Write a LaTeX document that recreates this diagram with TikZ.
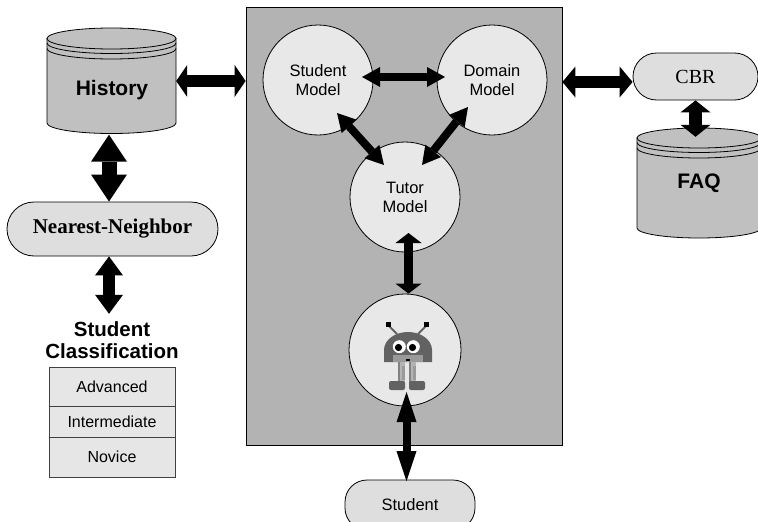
\documentclass[tikz,border=0pt]{standalone}
\usepackage{fontspec}
\setmainfont{Liberation Serif}
\setsansfont{Liberation Sans}
\usetikzlibrary{arrows.meta,calc}

\definecolor{panelgray}{HTML}{B3B3B3}
\definecolor{bubble}{HTML}{E8E8E8}
\definecolor{drumgray}{HTML}{C0C0C0}
\definecolor{pillgray}{HTML}{DEDEDE}
\definecolor{rowgray}{HTML}{E6E6E6}
\definecolor{robodark}{HTML}{626262}
\definecolor{robomid}{HTML}{9A9A9A}
\definecolor{roboleg}{HTML}{B4B4B4}

\tikzset{
  fatarrow/.style n args={3}{line width=#1,
    {Triangle[width=#2,length=#3,line width=0pt]}-{Triangle[width=#2,length=#3,line width=0pt]}},
  model/.style={circle, draw=black, line width=0.8pt, fill=bubble, minimum size=110pt,
    inner sep=0pt, align=center, font=\sffamily\fontsize{16.5}{19}\selectfont},
  pill/.style={draw=black, line width=0.8pt, fill=pillgray, rounded corners=#1, inner sep=0pt},
  pill/.default=23pt,
  cellbox/.style={draw=black!75, line width=0.7pt, fill=rowgray, minimum width=126pt,
    inner sep=0pt, font=\sffamily\fontsize{16}{19}\selectfont},
  drumfill/.style={draw=black, line width=0.8pt, fill=drumgray},
  drumlabel/.style={font=\sffamily\bfseries\fontsize{21}{24}\selectfont},
}

% database drum: #1 left x, #2 right x, #3 top ellipse centre y,
% #4 bottom ellipse centre y, #5 ellipse half height
\newcommand\dbdrum[5]{%
  \pgfmathsetmacro\drumrx{(#2-#1)/2}%
  \pgfmathsetmacro\drumcx{(#1+#2)/2}%
  \filldraw[drumfill] (#1,#3) -- (#1,#4)
    arc[start angle=180,end angle=0,x radius=\drumrx,y radius=#5] -- (#2,#3) -- cycle;
  \filldraw[drumfill] (\drumcx,#3) ellipse[x radius=\drumrx,y radius=#5];
  \draw[line width=0.8pt] (#1,#3+4.5) arc[start angle=180,end angle=0,x radius=\drumrx,y radius=#5];
  \draw[line width=0.8pt] (#1,#3+10) arc[start angle=180,end angle=0,x radius=\drumrx,y radius=#5];
}

\begin{document}
\begin{tikzpicture}[x=1pt,y=-1pt]
\useasboundingbox (0,0) rectangle (758,522);
\begin{scope}
\clip (0,0) rectangle (758,522);

% central tutoring system panel
\node[draw=black, line width=0.8pt, fill=panelgray, minimum width=316pt,
      minimum height=438pt, inner sep=0pt] (panel) at (404,226) {};

% History store
\dbdrum{47}{176}{38.5}{123}{10.5}
\node[inner sep=0pt, minimum width=129pt, minimum height=107pt] (hist) at (111.5,81) {};
\node[drumlabel] (histlabel) at (112,90) {History};

% FAQ store
\dbdrum{637}{761}{138}{228}{10}
\node[inner sep=0pt, minimum width=124pt, minimum height=110pt] (faq) at (699,183) {};
\node[drumlabel] (faqlabel) at (699,183) {FAQ};

% reasoning modules
\node[pill=27pt, minimum width=211pt, minimum height=54pt,
      font=\bfseries\fontsize{21}{24}\selectfont] (nn) at (112.5,229) {Nearest-Neighbor};
\node[pill=23.5pt, minimum width=125pt, minimum height=47pt,
      font=\fontsize{20}{23}\selectfont] (cbr) at (695.5,76.5) {CBR};
\node[pill=22pt, minimum width=130pt, minimum height=50pt,
      font=\sffamily\fontsize{16.5}{19}\selectfont] (student) at (410,505) {Student};

% student classification table
\node[font=\sffamily\bfseries\fontsize{20.5}{22}\selectfont, align=center, inner sep=2pt]
  (ctitle) at (112,340.5) {Student\\Classification};
\node[cellbox, minimum height=39pt] (adv) at (112,386.5) {Advanced};
\node[cellbox, minimum height=31pt] (mid) at (112,421.5) {Intermediate};
\node[cellbox, minimum height=40pt] (nov) at (112,457) {Novice};

% models inside the panel
\node[model] (smodel) at (318,80) {Student\\Model};
\node[model] (dmodel) at (492,80) {Domain\\Model};
\node[model] (tmodel) at (405,197) {Tutor\\Model};
\node[model, minimum size=112pt] (agent) at (405,350) {};

% animated agent character
\draw[robodark, line width=2pt] (388,325) -- (397,334);
\draw[robodark, line width=2pt] (427,325) -- (418,334);
\fill[black] (386,322) rectangle (391,327);
\fill[black] (424,322) rectangle (429,327);
\fill[robodark] (384,362) -- (384,350)
  arc[start angle=180,end angle=360,x radius=24,y radius=18] -- (432,362) -- cycle;
\fill[robomid] (393,355) rectangle (423,362);
\fill[white] (399.3,346.7) circle[radius=6.5];
\fill[white] (413.3,346.7) circle[radius=6.5];
\fill[black] (398.5,347.5) circle[radius=3.6];
\fill[black] (412.5,347.5) circle[radius=3.6];
\fill[black] (406,358.5) rectangle (409.5,361);
\fill[roboleg] (398,362) rectangle (405,384);
\fill[roboleg] (409,362) rectangle (416,384);
\fill[robodark!80] (398,362) rectangle (400,384);
\fill[robodark!80] (409,362) rectangle (411,384);
\fill[robomid] (402,366) rectangle (405,380);
\fill[robomid] (413,366) rectangle (416,380);
\fill[robodark, rounded corners=2pt] (389,381) rectangle (405,390);
\fill[robodark, rounded corners=2pt] (409,381) rectangle (425,390);

% connectors
\draw[fatarrow={12pt}{32pt}{11pt}] (hist.east) -- (panel.west |- hist.east);
\draw[fatarrow={15pt}{36pt}{27pt}] ($(hist.south)+(-2.5,0)$) -- ($(nn.north)+(-3.5,0)$);
\draw[fatarrow={12pt}{28pt}{19pt}] ($(nn.south)+(-3.5,0)$) -- ($(ctitle.north)+(-3,-6)$);

\draw[fatarrow={8pt}{20pt}{18pt}] ($(smodel.center)+(44,-3)$) -- ($(dmodel.center)+(-47,-3)$);
\draw[fatarrow={8pt}{20pt}{18pt}] ($(smodel.center)+(19,33)$) -- ($(tmodel.center)+(-21,-32)$);
\draw[fatarrow={8pt}{20pt}{18pt}] ($(dmodel.center)+(-24,27)$) -- ($(tmodel.center)+(17,-32)$);
\draw[fatarrow={9pt}{26pt}{10pt}] ($(tmodel.center)+(3.5,36)$) -- ($(agent.north)+(3.5,0)$);
\draw[fatarrow={8pt}{20pt}{30pt}] ($(agent.center)+(1.5,42)$) -- ($(student.north)+(-3.5,1.5)$);

\coordinate (cbrport) at ($(cbr.west)+(0,5.5)$);
\draw[fatarrow={12pt}{31pt}{13pt}] (panel.east |- cbrport) -- (cbrport);
\coordinate (faqport) at ($(faq.north)+(0,9)$);
\draw[fatarrow={13pt}{30pt}{12pt}] (cbr.south) -- (cbr.south |- faqport);

\end{scope}
\end{tikzpicture}
\end{document}
